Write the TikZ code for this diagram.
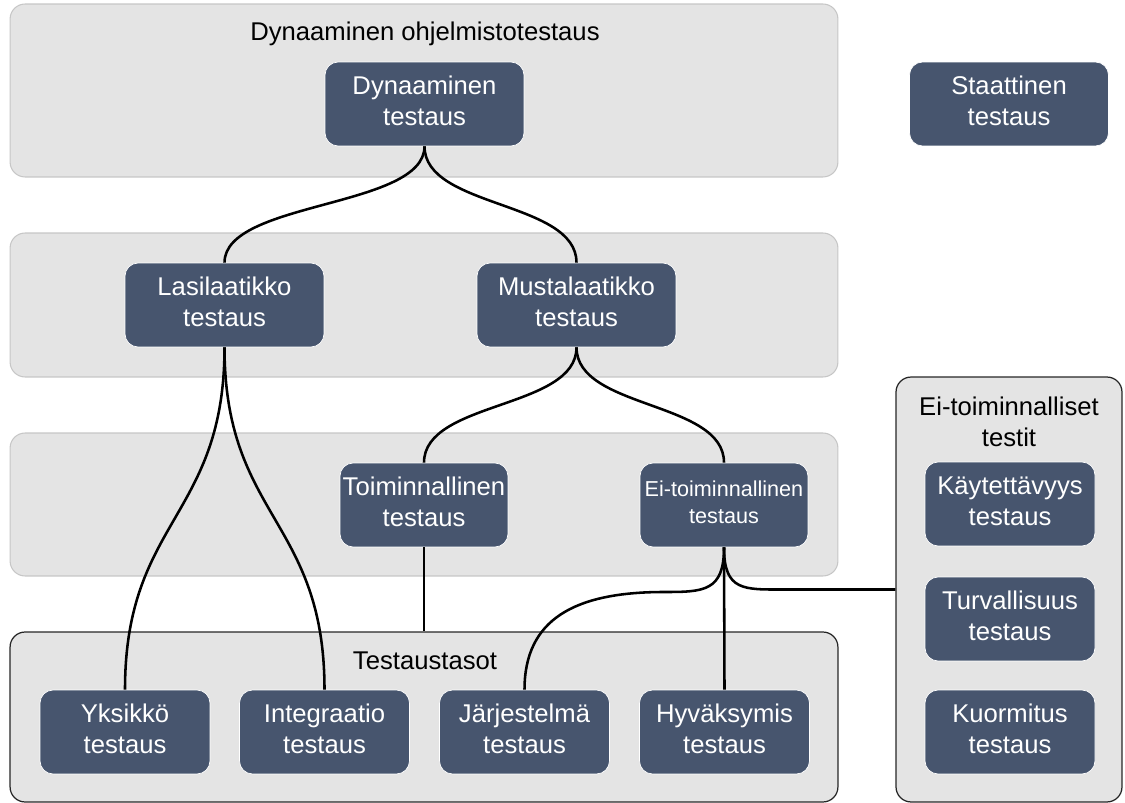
\documentclass[tikz,border=0pt]{standalone}
\usepackage{fontspec}
\setmainfont{Liberation Sans}
\usetikzlibrary{calc}
\definecolor{laatikko}{RGB}{71,85,110}
\definecolor{ryhmaharmaa}{RGB}{228,228,228}
\definecolor{ryhmareuna}{RGB}{198,198,198}

\begin{document}
\begin{tikzpicture}[x=0.02cm,y=-0.02cm,
    ryhma/.style={draw=ryhmareuna,fill=ryhmaharmaa,rounded corners=0.3cm,line width=0.6pt,inner sep=0pt},
    tasoryhma/.style={ryhma,draw=black!85,line width=0.7pt},
    testi/.style={draw=white,fill=laatikko,text=white,rounded corners=0.26cm,align=center,
      minimum width=3.4cm,minimum height=1.68cm,inner sep=0pt,font=\fontsize{14.6}{17.6}\selectfont,
      execute at end node={\rule[-0.12cm]{0pt}{0pt}}},
    otsikko/.style={align=center,font=\fontsize{14.6}{17.6}\selectfont},
    yhteys/.style={line width=1.45pt}]
        \useasboundingbox (0,0) rectangle (1125,803);
        % ryhmat
        \node[ryhma,minimum width=16.56cm,minimum height=3.46cm] (ryhma1) at (424,90.5) {};
        \node[ryhma,minimum width=16.56cm,minimum height=2.88cm] (ryhma2) at (424,305) {};
        \node[ryhma,minimum width=16.56cm,minimum height=2.86cm] (ryhma3) at (424,504.5) {};
        \node[tasoryhma,minimum width=16.56cm,minimum height=3.4cm] (tasot) at (424,717) {};
        \node[tasoryhma,minimum width=4.52cm,minimum height=8.5cm] (eitoimryhma) at (1009,589.5) {};
        \node[otsikko] (otsikko1) at (425,34) {Dynaaminen ohjelmistotestaus};
        \node[otsikko] (otsikko4) at (425,661) {Testaustasot};
        \node[otsikko] (otsikko5) at (1009,422) {Ei-toiminnalliset\\testit};
        % testit
        \node[testi,minimum width=3.98cm] (dyn) at (424.5,104) {Dynaaminen\\testaus};
        \node[testi,minimum width=3.98cm] (staat) at (1009,104) {Staattinen\\testaus};
        \node[testi,minimum width=3.98cm] (lasi) at (224.5,305) {Lasilaatikko\\testaus};
        \node[testi,minimum width=3.98cm] (musta) at (576.5,305) {Mustalaatikko\\testaus};
        \node[testi,minimum width=3.36cm] (toim) at (424,505) {Toiminnallinen\\testaus};
        \node[testi,minimum width=3.36cm,font=\fontsize{12.3}{15}\selectfont] (eitoim) at (724,505) {Ei-toiminnallinen\\testaus};
        \node[testi] (yks) at (125,732) {Yksikkö\\testaus};
        \node[testi] (integ) at (324.5,732) {Integraatio\\testaus};
        \node[testi] (jarj) at (524.5,732) {Järjestelmä\\testaus};
        \node[testi] (hyv) at (724.5,732) {Hyväksymis\\testaus};
        \node[testi] (kayt) at (1010,504) {Käytettävyys\\testaus};
        \node[testi] (turva) at (1010,619) {Turvallisuus\\testaus};
        \node[testi] (kuorm) at (1010,732) {Kuormitus\\testaus};
        % yhteydet
        \draw[yhteys] (dyn.south) .. controls +(0,62) and +(0,-62) .. (lasi.north);
        \draw[yhteys] (dyn.south) .. controls +(0,62) and +(0,-62) .. (musta.north);
        \draw[yhteys] (lasi.south) .. controls +(0,170) and +(0,-170) .. (yks.north);
        \draw[yhteys] (lasi.south) .. controls +(0,170) and +(0,-170) .. (integ.north);
        \draw[yhteys] (musta.south) .. controls +(0,62) and +(0,-62) .. (toim.north);
        \draw[yhteys] (musta.south) .. controls +(0,62) and +(0,-62) .. (eitoim.north);
        \draw[yhteys] (toim.south) -- (toim.south |- tasot.north);
        \draw[yhteys] (eitoim.south) -- (hyv.north);
        \draw[yhteys] (eitoim.south) .. controls +(0,44) and +(40,0) .. (664,592)
            .. controls +(-90,0) and +(0,-70) .. (jarj.north);
        \draw[yhteys] (eitoim.south) .. controls +(0,44) and +(-40,0) .. (784,589.5) -- (eitoimryhma.west);
      \end{tikzpicture}
\end{document}
